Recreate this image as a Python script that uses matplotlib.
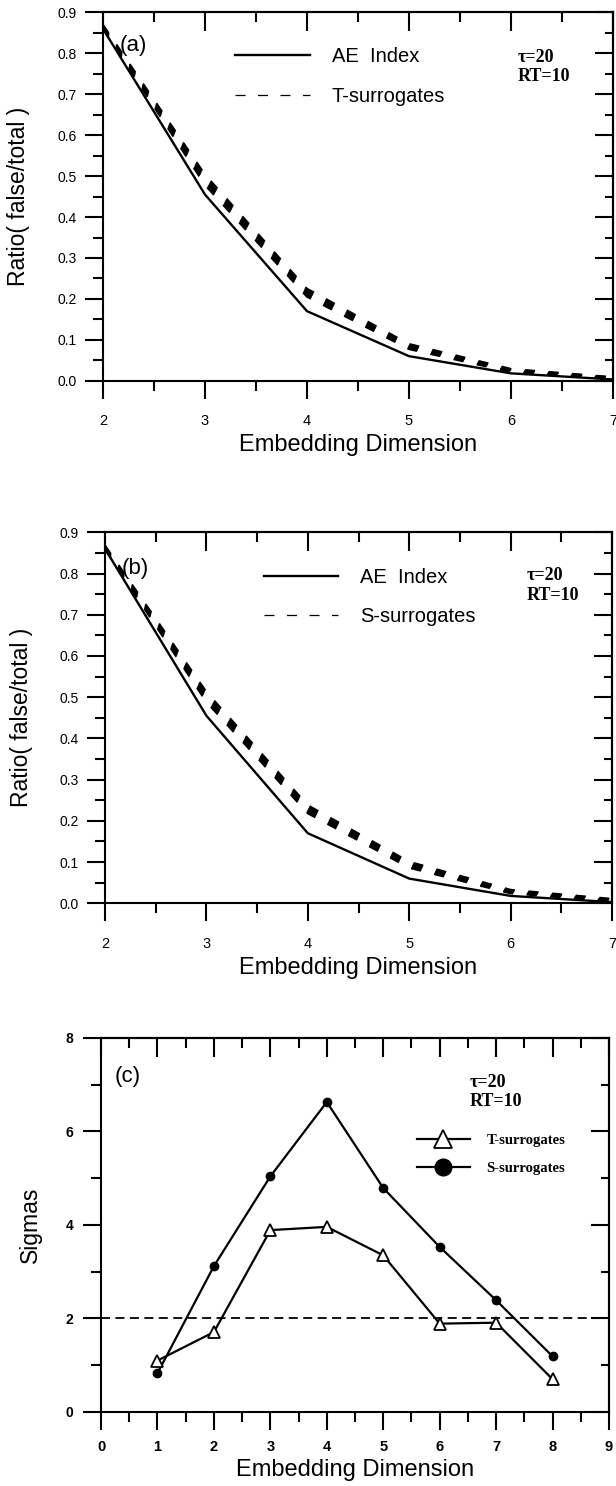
import matplotlib
matplotlib.use('Agg')
import matplotlib.pyplot as plt
from matplotlib.ticker import MultipleLocator, FormatStrFormatter

SANS = ['Liberation Sans Narrow', 'Liberation Sans', 'DejaVu Sans']
SERIF = ['Liberation Serif', 'DejaVu Serif']
plt.rcParams['font.family'] = SANS

# ---- data ----
dim_ab = [2, 3, 4, 5, 6, 7]
ae_index = [0.860, 0.455, 0.170, 0.060, 0.018, 0.003]

# bundle of T-surrogate curves (panel a)
t_surr = [
    [0.860, 0.478, 0.205, 0.077, 0.021, 0.004],
    [0.862, 0.484, 0.209, 0.080, 0.023, 0.005],
    [0.864, 0.489, 0.213, 0.082, 0.024, 0.006],
    [0.866, 0.494, 0.217, 0.085, 0.026, 0.007],
    [0.868, 0.499, 0.221, 0.087, 0.027, 0.008],
    [0.870, 0.504, 0.225, 0.090, 0.029, 0.009],
]

# bundle of S-surrogate curves (panel b)
s_surr = [
    [0.858, 0.488, 0.218, 0.086, 0.024, 0.005],
    [0.860, 0.493, 0.222, 0.089, 0.026, 0.006],
    [0.862, 0.498, 0.226, 0.092, 0.028, 0.007],
    [0.864, 0.503, 0.230, 0.095, 0.029, 0.008],
    [0.866, 0.508, 0.234, 0.098, 0.031, 0.009],
    [0.868, 0.513, 0.238, 0.101, 0.033, 0.011],
]

dim_c = [1, 2, 3, 4, 5, 6, 7, 8]
sigma_t = [1.10, 1.71, 3.89, 3.96, 3.35, 1.89, 1.91, 0.70]
sigma_s = [0.83, 3.12, 5.04, 6.63, 4.79, 3.53, 2.39, 1.19]
sigma_level = 2.0


def frame(ax, xmaj, xmin, ymaj, ymin, xpad, ypad, xbold, ybold, yfs):
    for s in ax.spines.values():
        s.set_linewidth(1.5)
    ax.xaxis.set_major_locator(MultipleLocator(xmaj))
    ax.xaxis.set_minor_locator(MultipleLocator(xmin))
    ax.yaxis.set_major_locator(MultipleLocator(ymaj))
    ax.yaxis.set_minor_locator(MultipleLocator(ymin))
    ax.tick_params(which='major', direction='out', length=13, width=1.5)
    ax.tick_params(which='minor', direction='out', length=7, width=1.5)
    ax.tick_params(axis='x', which='major', pad=xpad)
    ax.tick_params(axis='y', which='major', pad=ypad)
    for lab in ax.get_xticklabels():
        lab.set_fontsize(10.5)
        lab.set_fontweight('bold' if xbold else 'normal')
    for lab in ax.get_yticklabels():
        lab.set_fontsize(yfs)
        lab.set_fontweight('bold' if ybold else 'normal')
    # inward ticks on top and right
    top = ax.secondary_xaxis('top')
    top.xaxis.set_major_locator(MultipleLocator(xmaj))
    top.xaxis.set_minor_locator(MultipleLocator(xmin))
    top.tick_params(which='major', direction='in', length=14, width=1.5,
                    labeltop=False)
    top.tick_params(which='minor', direction='in', length=7, width=1.5)
    top.spines['top'].set_linewidth(1.5)
    right = ax.secondary_yaxis('right')
    right.yaxis.set_major_locator(MultipleLocator(ymaj))
    right.yaxis.set_minor_locator(MultipleLocator(ymin))
    right.tick_params(which='major', direction='in', length=13, width=1.5,
                      labelright=False)
    right.tick_params(which='minor', direction='in', length=6, width=1.5)
    right.spines['right'].set_linewidth(1.5)


def labels(ax, ylab, xlab_y, ylab_x, yfs):
    ax.set_xlabel('Embedding Dimension', fontsize=17)
    ax.set_ylabel(ylab, fontsize=yfs)
    ax.xaxis.set_label_coords(0.5, xlab_y)
    ax.xaxis.label.set_va('center')
    ax.yaxis.set_label_coords(ylab_x, 0.5)
    ax.yaxis.label.set_va('center')


def params_text(ax, x, y1, y2):
    ax.text(x, y1, 'τ=20', transform=ax.transAxes, family=SERIF,
            weight='bold', fontsize=13, va='center', ha='left')
    ax.text(x, y2, 'RT=10', transform=ax.transAxes, family=SERIF,
            weight='bold', fontsize=13, va='center', ha='left')


fig = plt.figure(figsize=(6.16, 14.86), dpi=100)
ax_a = fig.add_axes([0.1672, 0.7438, 0.8279, 0.2478])
ax_b = fig.add_axes([0.1705, 0.3921, 0.8231, 0.2497])
ax_c = fig.add_axes([0.1640, 0.0498, 0.8247, 0.2517])

# ---- panels (a) and (b) ----
for ax, bundle, name, tag, leg_x, tx, ty in [
        (ax_a, t_surr, 'T-surrogates', '(a)', 0.259, 0.814, (0.879, 0.825)),
        (ax_b, s_surr, 'S-surrogates', '(b)', 0.313, 0.832, (0.884, 0.830))]:
    surr_lines = []
    for curve in bundle:
        ln, = ax.plot(dim_ab, curve, color='black', lw=1.4,
                      dashes=(5.2, 7.0))
        surr_lines.append(ln)
    ae_line, = ax.plot(dim_ab, ae_index, color='black', lw=1.7)
    ax.set_xlim(2, 7)
    ax.set_ylim(0, 0.9)
    frame(ax, 1, 0.5, 0.1, 0.05, xpad=11, ypad=6, xbold=False, ybold=False,
          yfs=10)
    ax.yaxis.set_major_formatter(FormatStrFormatter('%.1f'))
    for lab in ax.get_yticklabels():
        lab.set_fontsize(10)
    labels(ax, 'Ratio( false/total )', -0.175, -0.165, 16.5)
    leg = ax.legend([ae_line, surr_lines[0]], ['AE  Index', name],
                    loc='center left', bbox_to_anchor=(leg_x, 0.826),
                    frameon=False, fontsize=14.5, handlelength=3.7,
                    handletextpad=1.1, labelspacing=1.0, borderpad=0,
                    borderaxespad=0)
    leg.legend_handles[1].set_linewidth(0.9)
    leg.legend_handles[1].set_dashes((8, 10))
    ax.text(0.06, 0.91 if tag == '(a)' else 0.902, tag,
            transform=ax.transAxes, fontsize=16, ha='center', va='center')
    params_text(ax, tx, ty[0], ty[1])

# ---- panel (c) ----
ax_c.axhline(sigma_level, color='black', lw=1.3, ls=(0, (5, 3)))
ax_c.plot(dim_c, sigma_s, color='black', lw=1.6, marker='o', ms=6,
          label='S-surrogates')
ax_c.plot(dim_c, sigma_t, color='black', lw=1.6, marker='^', ms=8.5,
          mfc='white', mec='black', mew=1.3, label='T-surrogates')
ax_c.set_xlim(0, 9)
ax_c.set_ylim(0, 8)
frame(ax_c, 1, 0.5, 2, 1, xpad=7, ypad=7, xbold=True, ybold=True, yfs=10)
labels(ax_c, 'Sigmas', -0.155, -0.138, 16.5)
handles, names = ax_c.get_legend_handles_labels()
leg = ax_c.legend(handles[::-1], names[::-1], loc='center left',
                  bbox_to_anchor=(0.622, 0.6885), frameon=False,
                  prop={'family': SERIF, 'weight': 'bold', 'size': 10.5},
                  handlelength=3.6, handletextpad=1.15, labelspacing=1.0,
                  borderpad=0, borderaxespad=0)
leg.legend_handles[0].set_markersize(12.5)
leg.legend_handles[1].set_markersize(12)
ax_c.text(0.053, 0.896, '(c)', transform=ax_c.transAxes, fontsize=16,
          ha='center', va='center')
params_text(ax_c, 0.725, 0.882, 0.829)

fig.savefig('out.png', dpi=100)
